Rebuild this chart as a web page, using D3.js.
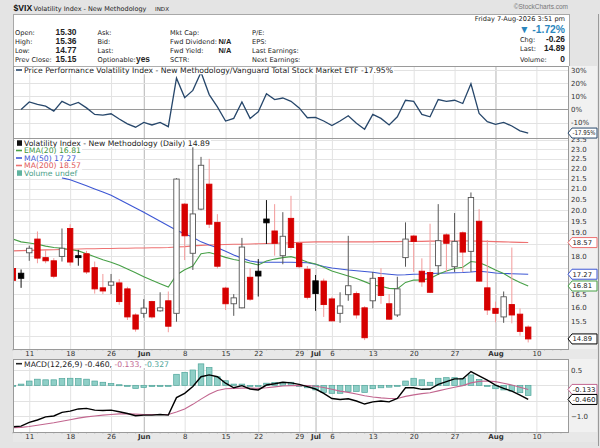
<!DOCTYPE html>
<html>
<head>
<meta charset="utf-8">
<script src="https://cdn.jsdelivr.net/npm/d3@7"></script>
<style>
  body { margin: 0; background: #e4e4e4; }
  svg { display: block; font-family: "DejaVu Sans", Verdana, sans-serif; }
</style>
</head>
<body>
<svg id="chart" width="600" height="448"></svg>
<script>
// trading days shown
const dates = ["2026-05-07","2026-05-08","2026-05-11","2026-05-12","2026-05-13","2026-05-14","2026-05-15","2026-05-18","2026-05-19","2026-05-20","2026-05-21","2026-05-22","2026-05-26","2026-05-27","2026-05-28","2026-05-29","2026-06-01","2026-06-02","2026-06-03","2026-06-04","2026-06-05","2026-06-08","2026-06-09","2026-06-10","2026-06-11","2026-06-12","2026-06-15","2026-06-16","2026-06-17","2026-06-18","2026-06-22","2026-06-23","2026-06-24","2026-06-25","2026-06-26","2026-06-29","2026-06-30","2026-07-01","2026-07-02","2026-07-06","2026-07-07","2026-07-08","2026-07-09","2026-07-10","2026-07-13","2026-07-14","2026-07-15","2026-07-16","2026-07-17","2026-07-20","2026-07-21","2026-07-22","2026-07-23","2026-07-24","2026-07-27","2026-07-28","2026-07-29","2026-07-30","2026-07-31","2026-08-03","2026-08-04","2026-08-05","2026-08-06","2026-08-07"];

const opens = [17.5,17.31,18.14,18.72,17.94,17.81,17.99,19.18,18.02,18.1,
  17.53,16.74,16.84,16.93,16.7,15.73,15.79,16.22,15.88,16.25,
  15.79,20.28,18.12,20.05,21.23,19.45,16.73,16.14,15.99,17.15,
  17.39,19.6,19.07,18.02,19.63,18.54,17.47,17.01,17.0,16.32,
  15.79,16.48,16.52,15.99,16.25,17.14,16.14,15.73,17.94,18.85,
  17.39,17.34,17.61,18.9,17.57,18.99,18.2,19.5,16.74,15.97,
  15.66,16.11,15.76,15.30];
const highs = [17.6,17.46,18.44,19.05,18.26,17.92,19.18,19.37,18.26,18.22,
  17.78,17.28,17.28,17.08,16.78,15.79,16.31,16.25,16.57,16.6,
  21.52,20.33,23.14,22.6,22.5,19.82,16.78,16.5,18.77,17.51,
  17.88,20.47,20.28,19.91,20.67,18.6,17.6,17.24,17.1,16.4,
  16.57,18.86,16.6,16.05,17.36,17.51,16.5,17.17,19.45,18.9,
  17.91,19.39,20.28,18.97,19.87,19.05,20.83,20.05,18.68,16.22,
  16.6,18.36,15.97,15.36];
const lows = [16.95,16.74,17.81,17.71,17.71,17.11,17.78,17.61,17.61,17.28,
  16.52,16.5,16.5,16.1,15.55,15.14,15.63,15.6,15.85,15.12,
  15.49,17.84,17.44,20.0,19.2,17.5,15.91,15.7,15.97,16.25,
  16.41,18.51,18.02,17.67,18.26,17.5,16.3,15.88,15.66,15.5,
  15.45,16.25,15.6,14.85,15.97,16.14,15.55,15.66,17.57,17.36,
  16.78,16.54,17.24,17.36,17.36,17.36,17.36,16.97,15.73,15.47,
  15.45,15.43,15.0,14.77];
const closes = [17.03,17.11,18.33,17.92,17.81,17.19,18.33,17.76,17.94,17.36,
  16.7,16.62,16.97,16.22,15.66,15.23,15.98,15.66,15.99,15.33,
  21.48,18.86,19.83,22.17,19.37,17.59,16.14,16.36,18.38,16.31,
  17.2,19.43,18.54,18.84,18.36,17.57,16.38,16.52,16.11,15.52,
  16.06,16.82,15.73,14.93,17.11,16.45,15.58,16.7,18.72,18.62,
  16.97,16.57,18.65,18.54,18.62,18.17,20.59,17.0,15.91,15.79,
  16.4,15.73,15.15,14.89];
const priorClose = 17.8;

const ema20 = [18.72,18.6,18.55,18.5,18.42,18.36,18.33,18.28,18.22,18.1,
  17.98,17.85,17.75,17.63,17.48,17.33,17.17,17.03,16.9,16.77,
  17.24,17.45,17.6,18.1,18.15,18.06,17.95,17.86,17.8,17.72,
  17.64,17.8,17.88,17.94,17.98,17.88,17.76,17.68,17.55,17.4,
  17.3,17.2,17.1,16.98,16.85,16.8,16.72,16.7,16.95,17.04,
  17.05,17.1,17.27,17.4,17.5,17.55,17.78,17.74,17.6,17.44,
  17.3,17.1,16.95,16.81];
const ma50 = [null,null,null,null,null,null,21.54,21.45,21.3,21.15,
  21.0,20.85,20.7,20.5,20.3,20.1,19.91,19.7,19.5,19.3,
  19.1,18.95,18.8,18.6,18.47,18.35,18.2,18.05,17.92,17.8,
  17.75,17.75,17.75,17.75,17.75,17.74,17.73,17.67,17.58,17.52,
  17.48,17.44,17.41,17.38,17.35,17.3,17.27,17.24,17.25,17.27,
  17.28,17.3,17.31,17.32,17.33,17.34,17.36,17.39,17.36,17.32,
  17.3,17.29,17.28,17.27];
const ma200 = [18.22,18.23,18.24,18.25,18.26,18.27,18.28,18.29,18.3,18.31,
  18.31,18.32,18.32,18.33,18.33,18.34,18.34,18.35,18.35,18.36,
  18.38,18.4,18.43,18.45,18.47,18.48,18.49,18.5,18.5,18.51,
  18.52,18.53,18.54,18.55,18.56,18.58,18.59,18.6,18.6,18.6,
  18.6,18.6,18.6,18.6,18.6,18.61,18.61,18.61,18.62,18.62,
  18.62,18.63,18.63,18.64,18.64,18.65,18.64,18.63,18.62,18.61,
  18.6,18.59,18.58,18.57];

// price performance vs VTI, %
const perf = [null,0,5.7,3.8,2.5,-1.3,6.2,3.2,5.3,1.2,
  -3.8,-4.3,-3.3,-7.3,-11,-13.5,-9.8,-11.8,-9.8,-13.1,
  23.8,9.0,14.5,28.3,11.3,2.0,-8.8,-6.8,5.7,-6.8,
  -1.8,12.0,7.5,8.7,6.2,1.2,-6.3,-6.0,-8.8,-12.3,
  -8.8,-4.8,-10.5,-15.0,-3.8,-6.8,-11.8,-5.6,7.0,6.2,
  -3.8,-5.6,7.5,6.2,7.0,4.5,19.5,-3.0,-9.3,-11.3,
  -9.8,-12.6,-16.3,-17.95];

const macd = [-1.35,-1.33,-1.21,-1.13,-1.03,-1.0,-0.88,-0.84,-0.77,-0.75,
  -0.81,-0.82,-0.81,-0.86,-0.92,-0.99,-0.97,-0.97,-0.95,-0.97,
  -0.4,-0.26,-0.04,0.28,0.34,0.28,0.07,-0.08,-0.01,-0.12,
  -0.15,0.01,0.05,0.1,0.08,0.03,-0.04,-0.12,-0.26,-0.43,
  -0.46,-0.44,-0.51,-0.61,-0.54,-0.51,-0.54,-0.43,-0.08,-0.08,
  -0.13,-0.12,0.03,0.12,0.21,0.21,0.45,0.31,0.17,0.01,
  -0.1,-0.19,-0.32,-0.46];
const signal = [-1.38,-1.37,-1.34,-1.3,-1.26,-1.22,-1.17,-1.12,-1.07,-1.03,
  -1.0,-0.97,-0.95,-0.93,-0.93,-0.94,-0.95,-0.95,-0.95,-0.95,
  -0.87,-0.77,-0.62,-0.45,-0.29,-0.17,-0.11,-0.1,-0.09,-0.09,
  -0.1,-0.08,-0.05,-0.02,-0.01,0.0,-0.01,-0.03,-0.07,-0.13,
  -0.19,-0.23,-0.28,-0.34,-0.38,-0.41,-0.43,-0.43,-0.36,-0.31,
  -0.27,-0.24,-0.18,-0.12,-0.06,-0.01,0.08,0.13,0.14,0.12,
  0.07,0.01,-0.06,-0.133];
const hist = [0,0.04,0.14,0.2,0.18,0.18,0.22,0.23,0.22,0.2,
  0.14,0.1,0.06,0.02,0,-0.1,-0.07,-0.04,-0.04,-0.03,
  0.36,0.42,0.5,0.7,0.58,0.28,0.15,0.04,0.04,-0.03,
  -0.03,0.07,0.09,0.1,0.1,-0.03,-0.08,-0.15,-0.23,-0.26,
  -0.26,-0.2,-0.2,-0.23,-0.11,-0.08,-0.06,-0.02,0.14,0.23,
  0.18,0.1,0.23,0.25,0.25,0.23,0.34,0.19,0,-0.11,
  -0.15,-0.19,-0.24,-0.327];

const tickDates = ["2026-05-11","2026-05-18","2026-05-26","2026-06-01","2026-06-08","2026-06-15","2026-06-22","2026-06-29","2026-07-01","2026-07-06","2026-07-13","2026-07-20","2026-07-27","2026-08-03","2026-08-10"];
const tickLabels = ["11","18","26","Jun","8","15","22","29","Jul","6","13","20","27","Aug","10"];
const monthTicks = ["Jun","Jul","Aug"];
const priceTicks = [23.5,23.0,22.5,22.0,21.5,21.0,20.5,20.0,19.5,19.0,18.5,18.0,17.5,17.0,16.5,16.0,15.5,15.0];
const perfTicks = [30,20,10,0,-10];
const macdTicks = [0.5,0.0,-0.5,-1.0];

const svg = d3.select("#chart");
const L = 13, R = 568, AX = 597;
const perfP = {top: 66, bottom: 138};
const mainP = {top: 138, bottom: 349};
const macdP = {top: 359, bottom: 432};
const HF = "Liberation Sans, Arial, sans-serif";

const x = d3.scaleLinear().domain([0, dates.length - 1]).range([12.9, 528.2]);
const yPerf = d3.scaleLinear().domain([30, -10]).range([70, 122.6]);
const yMain = d3.scaleLog().domain([14.55, 23.6]).range([mainP.bottom, mainP.top]);
const yMacd = d3.scaleLinear().domain([0.5, -1.0]).range([370, 416]);

const tickIndex = d => { const k = dates.indexOf(d); return k < 0 ? dates.length : k; };

// outer frame
svg.append("rect").attr("width", 600).attr("height", 448).attr("fill", "#e4e4e4");
svg.append("line").attr("x1", 598.5).attr("x2", 598.5).attr("y1", 14).attr("y2", 446)
  .attr("stroke", "#9a9a9a");

// header
svg.append("text").attr("x", 13.5).attr("y", 11).attr("font-size", 8.6).attr("font-weight", "bold")
  .attr("font-family", HF).attr("fill", "#111").text("$VIX");
svg.append("text").attr("x", 33.5).attr("y", 10.5).attr("font-size", 6.5).attr("fill", "#222")
  .text("Volatility Index - New Methodology");
svg.append("text").attr("x", 155).attr("y", 10.5).attr("font-size", 5.6).attr("fill", "#222").text("INDX");
svg.append("text").attr("x", 568).attr("y", 8.5).attr("font-size", 6.5).attr("font-family", HF).attr("fill", "#777")
  .attr("text-anchor", "end").text("©StockCharts.com");

svg.append("rect").attr("x", L + 0.5).attr("y", 14.5).attr("width", R - L + 1).attr("height", perfP.top - 14)
  .attr("fill", "#fff").attr("stroke", "#a8a8a8");

const hdr = svg.append("g").attr("font-size", 6.6).attr("fill", "#222");
const rowsY = [35, 44, 53, 62];
function hText(xp, yp, t, opts = {}) {
  const el = hdr.append("text").attr("x", xp).attr("y", yp).text(t);
  if (opts.bold) el.attr("font-weight", "bold").attr("font-family", HF).attr("font-size", opts.size || 8.4);
  if (opts.anchor) el.attr("text-anchor", opts.anchor);
  if (opts.fill) el.attr("fill", opts.fill);
  return el;
}
["Open:", "High:", "Low:", "Prev Close:"].forEach((t, k) => hText(15, rowsY[k], t));
hText(76.5, rowsY[0], opens[opens.length - 1].toFixed(2), {bold: true, anchor: "end"});
hText(76.5, rowsY[1], highs[highs.length - 1].toFixed(2), {bold: true, anchor: "end"});
hText(76.5, rowsY[2], lows[lows.length - 1].toFixed(2), {bold: true, anchor: "end"});
hText(76.5, rowsY[3], closes[closes.length - 2].toFixed(2), {bold: true, anchor: "end"});
["Ask:", "Bid:", "Last:", "Optionable:"].forEach((t, k) => hText(97.5, rowsY[k], t));
hText(136, rowsY[3], "yes", {bold: true});
["Mkt Cap:", "Fwd Dividend:", "Fwd Yield:", "SCTR:"].forEach((t, k) => hText(170, rowsY[k], t));
hText(218.5, rowsY[1], "N/A", {bold: true, size: 7.4});
hText(218.5, rowsY[2], "N/A", {bold: true, size: 7.4});
["P/E:", "EPS:", "Last Earnings:", "Next Earnings:"].forEach((t, k) => hText(252, rowsY[k], t));

hText(565, 21.3, "Friday  7-Aug-2026  3:51 pm", {anchor: "end"});
const pctChg = (closes[63] / closes[62] - 1) * 100;
hText(565, 32.5, "▼ " + pctChg.toFixed(2) + "%", {bold: true, size: 10.3, anchor: "end", fill: "#2a86bd"});
hText(520, 42, "Chg:");
hText(565, 42, (closes[63] - closes[62]).toFixed(2), {bold: true, anchor: "end"});
hText(520, 51, "Last:");
hText(565, 51, closes[63].toFixed(2), {bold: true, anchor: "end"});
hText(520, 62, "Volume:");
hText(565, 62, "0", {bold: true, anchor: "end"});

// panel backgrounds
function panelBg(p) {
  svg.append("rect").attr("x", L).attr("y", p.top).attr("width", R - L).attr("height", p.bottom - p.top)
    .attr("fill", "#fff");
  svg.append("rect").attr("x", R).attr("y", p.top).attr("width", AX - R).attr("height", p.bottom - p.top)
    .attr("fill", "#f1f1f1");
}
[perfP, mainP, macdP].forEach(panelBg);

// date strips
function dateStrip(yTop, yBase) {
  const g = svg.append("g");
  g.append("rect").attr("x", L).attr("y", yTop).attr("width", AX - L).attr("height", 10).attr("fill", "#e8e8e8");
  g.selectAll("line.day").data(d3.range(dates.length + 4)).join("line")
    .attr("x1", d => x(d)).attr("x2", d => x(d)).attr("y1", yTop).attr("y2", yTop + 1.5)
    .attr("stroke", "#999").attr("stroke-width", 0.6);
  const axis = d3.axisBottom(x).tickValues(tickDates.map(tickIndex)).tickSize(0)
    .tickFormat((d, k) => tickLabels[k]);
  const ag = g.append("g").attr("transform", `translate(0,${yBase - 7})`).call(axis);
  ag.select(".domain").remove();
  ag.selectAll("text").attr("font-size", 7).attr("fill", "#333").attr("dy", 0).attr("y", 6.3)
    .attr("font-family", "DejaVu Sans, Verdana, sans-serif")
    .attr("font-weight", d => monthTicks.includes(tickLabels[tickDates.map(tickIndex).indexOf(d)]) ? "bold" : "normal");
}
dateStrip(mainP.bottom, 356.5);
dateStrip(macdP.bottom, 439.5);

// gridlines
function vGrid(p) {
  const idx = tickDates.map(tickIndex);
  svg.append("g").selectAll("line").data(idx).join("line")
    .attr("x1", d => x(d) + 0.5).attr("x2", d => x(d) + 0.5).attr("y1", p.top).attr("y2", p.bottom)
    .attr("stroke", (d, k) => monthTicks.includes(tickLabels[k]) ? "#b4b4b4" : "#e2e2e2")
    .attr("stroke-width", 1);
}
function hGrid(p, scale, ticks, color) {
  svg.append("g").selectAll("line").data(ticks).join("line")
    .attr("x1", L).attr("x2", R).attr("y1", d => Math.round(scale(d)) + 0.5).attr("y2", d => Math.round(scale(d)) + 0.5)
    .attr("stroke", typeof color === "function" ? color : () => color);
}
[perfP, mainP, macdP].forEach(vGrid);
hGrid(perfP, yPerf, perfTicks, d => d === 0 ? "#9a9a9a" : "#e2e2e2");
hGrid(mainP, yMain, priceTicks, "#e4e4e4");
hGrid(macdP, yMacd, macdTicks, "#e2e2e2");

// right axis labels (labels fully under a value box are left out)
function rightLabels(scale, ticks, fmt, boxYs) {
  const shown = ticks.filter(t => boxYs.every(b => Math.abs(scale(t) - b) >= 6.5));
  svg.append("g").selectAll("text").data(shown).join("text")
    .attr("x", R + 3).attr("y", d => scale(d) + 2.5).attr("font-size", 7).attr("fill", "#333")
    .text(fmt);
}
rightLabels(yPerf, perfTicks, d => d + "%", [yPerf(perf[63])]);
rightLabels(yMain, priceTicks, d3.format(".1f"),
  [ma200[63], ma50[63], ema20[63], closes[63]].map(v => yMain(v)));
rightLabels(yMacd, macdTicks, d3.format(".1f"), [yMacd(signal[63]), yMacd(macd[63])]);

// clip paths
const defs = svg.append("defs");
[["cPerf", perfP], ["cMain", mainP], ["cMacd", macdP]].forEach(([id, p]) => {
  defs.append("clipPath").attr("id", id).append("rect")
    .attr("x", L).attr("y", p.top).attr("width", R - L).attr("height", p.bottom - p.top);
});

// price performance line
const gPerf = svg.append("g").attr("clip-path", "url(#cPerf)");
gPerf.append("path").datum(perf)
  .attr("d", d3.line().defined(d => d !== null).x((d, k) => x(k)).y(d => yPerf(d)))
  .attr("fill", "none").attr("stroke", "#27476b").attr("stroke-width", 1.3);

// main panel: moving averages then candles
const gMain = svg.append("g").attr("clip-path", "url(#cMain)");
const maLine = d3.line().defined(d => d !== null).x((d, k) => x(k)).y(d => yMain(d));
gMain.append("path").datum(ma200).attr("d", maLine).attr("fill", "none").attr("stroke", "#ee7272").attr("stroke-width", 1.1);
gMain.append("path").datum(ma50).attr("d", maLine).attr("fill", "none").attr("stroke", "#3d57d4").attr("stroke-width", 1.1);
gMain.append("path").datum(ema20).attr("d", maLine).attr("fill", "none").attr("stroke", "#47a047").attr("stroke-width", 1.1);

const candles = dates.map((d, k) => ({
  k, o: opens[k], h: highs[k], l: lows[k], c: closes[k],
  prev: k === 0 ? priorClose : closes[k - 1]
}));
const bw = 5.4;
const cg = gMain.selectAll("g.candle").data(candles).join("g");
cg.append("line")
  .attr("x1", d => x(d.k)).attr("x2", d => x(d.k))
  .attr("y1", d => yMain(d.h)).attr("y2", d => yMain(d.l))
  .attr("stroke", d => d.c < d.prev ? "#f39a9a" : (d.c < d.o ? "#111" : "#555"))
  .attr("stroke-width", 1);
cg.append("rect")
  .attr("x", d => x(d.k) - bw / 2)
  .attr("y", d => yMain(Math.max(d.o, d.c)))
  .attr("width", bw)
  .attr("height", d => Math.max(1, Math.abs(yMain(d.o) - yMain(d.c))))
  .attr("fill", d => d.c < d.o ? (d.c < d.prev ? "#d60000" : "#000") : "#fff")
  .attr("stroke", d => d.c < d.prev ? "#d60000" : (d.c < d.o ? "#000" : "#555"))
  .attr("stroke-width", 0.9);

// MACD
const gMacd = svg.append("g").attr("clip-path", "url(#cMacd)");
gMacd.selectAll("rect").data(hist).join("rect")
  .attr("x", (d, k) => x(k) - 2.8)
  .attr("y", d => Math.min(yMacd(d), yMacd(0)))
  .attr("width", 5.6)
  .attr("height", d => Math.max(1, Math.abs(yMacd(d) - yMacd(0))))
  .attr("fill", "#8fcfc7").attr("stroke", "#4fa59a").attr("stroke-width", 0.7);
const mLine = d3.line().x((d, k) => x(k)).y(d => yMacd(d));
gMacd.append("path").datum(signal).attr("d", mLine).attr("fill", "none").attr("stroke", "#c2668f").attr("stroke-width", 1.1);
gMacd.append("path").datum(macd).attr("d", mLine).attr("fill", "none").attr("stroke", "#000").attr("stroke-width", 1.4);

// panel borders
[perfP, mainP, macdP].forEach(p => {
  svg.append("rect").attr("x", L + 0.5).attr("y", p.top + 0.5).attr("width", R - L).attr("height", p.bottom - p.top)
    .attr("fill", "none").attr("stroke", "#9a9a9a");
});

// legends
function legendLine(g, yp, color, parts, icon) {
  const t = g.append("text").attr("x", 24).attr("y", yp).attr("font-size", 7.7);
  parts.forEach(([s, c]) => t.append("tspan").attr("fill", c).text(s));
  const bb = t.node().getBBox();
  g.insert("rect", "text").attr("x", 15).attr("y", bb.y + 1).attr("width", bb.x + bb.width - 14).attr("height", bb.height - 1.5)
    .attr("fill", "#fff");
  if (icon === "bar") {
    g.append("rect").attr("x", 17).attr("y", yp - 5.5).attr("width", 5).attr("height", 5.5).attr("fill", color);
  } else {
    g.append("line").attr("x1", 16).attr("x2", 22).attr("y1", yp - 2.8).attr("y2", yp - 2.8)
      .attr("stroke", color).attr("stroke-width", 1.6);
  }
}
const lg = svg.append("g");
legendLine(lg, 72.8, "#27476b",
  [["Price Performance Volatility Index - New Methodology/Vanguard Total Stock Market ETF " + perf[63].toFixed(2) + "%", "#222"]]);
legendLine(lg, 145.8, "#111", [["Volatility Index - New Methodology (Daily) " + closes[63].toFixed(2), "#222"]], "bar");
legendLine(lg, 153.3, "#47a047", [["EMA(20) " + ema20[63].toFixed(2), "#3f973f"]]);
legendLine(lg, 160.8, "#3d57d4", [["MA(50) " + ma50[63].toFixed(2), "#3d57d4"]]);
legendLine(lg, 168.3, "#ee7272", [["MA(200) " + ma200[63].toFixed(2), "#e05858"]]);
legendLine(lg, 175.8, "#5fb39f", [["Volume undef", "#4aa088"]], "bar");
legendLine(lg, 366.5, "#222", [["MACD(12,26,9) " + macd[63].toFixed(3) + ", ", "#222"],
  [signal[63].toFixed(3) + ", ", "#c2668f"], [hist[63].toFixed(3), "#4fa59a"]]);

// value boxes on the right axis
function valueBox(yp, txt, color) {
  const g = svg.append("g");
  g.append("path")
    .attr("d", `M${R},${yp} L${R + 4},${yp - 5} L${AX},${yp - 5} L${AX},${yp + 5} L${R + 4},${yp + 5} Z`)
    .attr("fill", "#fff").attr("stroke", color).attr("stroke-width", 1);
  g.append("text").attr("x", R + 4.5).attr("y", yp + 2.4).attr("font-size", 6.6)
    .attr("textLength", Math.min(AX - R - 6, txt.length * 3.9)).attr("lengthAdjust", "spacingAndGlyphs")
    .attr("fill", "#222").text(txt);
}
valueBox(yPerf(perf[63]), perf[63].toFixed(2) + "%", "#27476b");
valueBox(yMain(ma200[63]), ma200[63].toFixed(2), "#ee7272");
valueBox(yMain(ma50[63]), ma50[63].toFixed(2), "#3d57d4");
valueBox(yMain(ema20[63]), ema20[63].toFixed(2), "#47a047");
valueBox(yMain(closes[63]), closes[63].toFixed(2), "#000");
valueBox(yMacd(signal[63]), signal[63].toFixed(3), "#c2668f");
valueBox(yMacd(macd[63]), macd[63].toFixed(3), "#000");
</script>
</body>
</html>
